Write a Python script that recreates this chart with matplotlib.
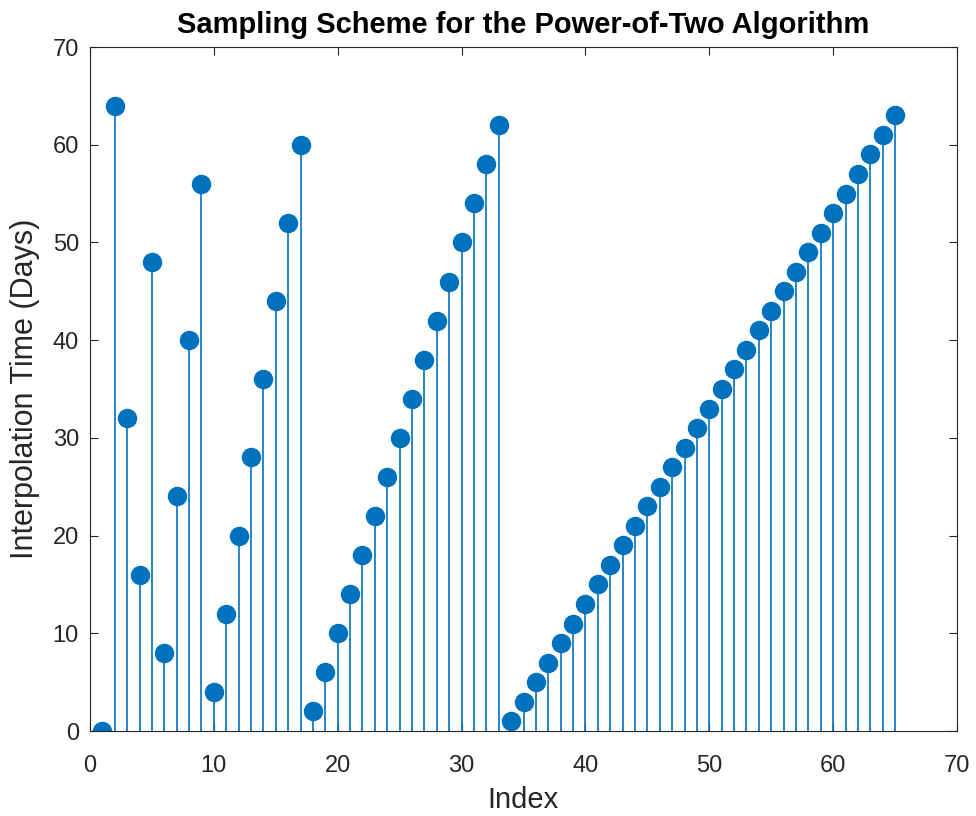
import matplotlib
matplotlib.use("Agg")
import matplotlib.pyplot as plt

plt.rcParams['font.family'] = ['Liberation Sans', 'DejaVu Sans']

index = list(range(1, 66))
days = [0, 64, 32, 16, 48, 8, 24, 40, 56,
        4, 12, 20, 28, 36, 44, 52, 60,
        2, 6, 10, 14, 18, 22, 26, 30, 34, 38, 42, 46, 50, 54, 58, 62,
        1, 3, 5, 7, 9, 11, 13, 15, 17, 19, 21, 23, 25, 27, 29, 31,
        33, 35, 37, 39, 41, 43, 45, 47, 49, 51, 53, 55, 57, 59, 61, 63]

color = '#0072BD'
dark = '#262626'

fig = plt.figure(figsize=(9.76, 8.16), dpi=100)
# axes box: x 90..957 px, y 47..731 px
ax = fig.add_axes([90 / 976, 1 - 731 / 816, 867 / 976, 684 / 816])

markerline, stemlines, baseline = ax.stem(index, days, basefmt=' ')
plt.setp(stemlines, color=color, linewidth=1.2)
plt.setp(markerline, color=color, marker='o', markersize=13)

ax.set_xlim(0, 70)
ax.set_ylim(0, 70)
ax.set_xticks(range(0, 71, 10))
ax.set_yticks(range(0, 71, 10))
ax.tick_params(direction='in', length=6, width=0.8, labelsize=17, colors=dark,
               top=True, right=True, labeltop=False, labelright=False)
ax.tick_params(axis='x', pad=17)
ax.tick_params(axis='y', pad=8)
for s in ax.spines.values():
    s.set_color(dark)
    s.set_linewidth(0.8)

ax.set_title('Sampling Scheme for the Power-of-Two Algorithm',
             fontsize=21, fontweight='bold', pad=10)
ax.set_xlabel('Index', fontsize=21, color=dark, labelpad=7)
ax.set_ylabel('Interpolation Time (Days)', fontsize=22, color=dark, labelpad=9)

fig.savefig('out.png', dpi=100)
